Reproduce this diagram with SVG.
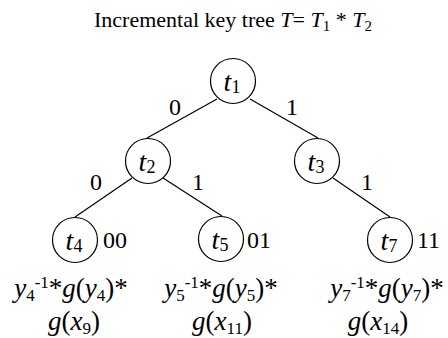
<svg xmlns="http://www.w3.org/2000/svg" width="448" height="338" viewBox="0 0 448 338">
<style>
text{font-family:"Liberation Serif","Times New Roman",serif;fill:#000}
.it{font-style:italic}
.node circle{fill:#fff;stroke:#000;stroke-width:1.2}
.mid{text-anchor:middle}
.nl{font-size:28px;text-anchor:middle}
.el{font-size:24px;text-anchor:middle}
.code{font-size:24px}
.ex{font-size:27px;text-anchor:middle}
.sub{font-size:17px}
.nsub{font-size:18px}
#edges line{stroke:#000;stroke-width:1.2}
</style>
<rect width="448" height="338" fill="#fff"/>
<text x="94" y="27" font-size="22">Incremental key tree <tspan class="it">T</tspan>= <tspan class="it">T</tspan><tspan font-size="15" dy="4">1</tspan><tspan dy="-4"> *  </tspan><tspan class="it">T</tspan><tspan font-size="15" dy="4">2</tspan></text>
<g id="edges">
<line x1="217" y1="99" x2="147" y2="138"/>
<line x1="250" y1="99" x2="318" y2="138"/>
<line x1="132" y1="178" x2="75" y2="217"/>
<line x1="163" y1="178" x2="222" y2="216"/>
<line x1="333" y1="178" x2="390" y2="217"/>
<text class="el" x="175" y="115">0</text>
<text class="el" x="292" y="115">1</text>
<text class="el" x="96" y="190">0</text>
<text class="el" x="198" y="190">1</text>
<text class="el" x="367" y="190">1</text>
</g>
<g id="t1" class="node"><circle cx="233" cy="81" r="22.5"/><text class="nl" x="232" y="91"><tspan class="it">t</tspan><tspan class="nsub" dy="2">1</tspan></text></g>
<g id="t2" class="node"><circle cx="148" cy="161" r="22.5"/><text class="nl" x="147" y="171"><tspan class="it">t</tspan><tspan class="nsub" dy="2">2</tspan></text></g>
<g id="t3" class="node"><circle cx="317" cy="161" r="22.5"/><text class="nl" x="316" y="171"><tspan class="it">t</tspan><tspan class="nsub" dy="2">3</tspan></text></g>
<g id="t4" class="node"><circle cx="75" cy="240" r="22.5"/><text class="nl" x="74" y="250"><tspan class="it">t</tspan><tspan class="nsub" dy="2">4</tspan></text>
<text class="code" x="103" y="248">00</text>
<text class="ex" x="71" y="297"><tspan class="it">y</tspan><tspan class="sub" dy="4">4</tspan><tspan class="sub" dy="-13">-1</tspan><tspan dy="9">*</tspan><tspan class="it">g</tspan>(<tspan class="it">y</tspan><tspan class="sub" dy="4">4</tspan><tspan dy="-4">)*</tspan></text>
<text class="ex" x="74" y="330"><tspan class="it">g</tspan>(<tspan class="it">x</tspan><tspan class="sub" dy="4">9</tspan><tspan dy="-4">)</tspan></text></g>
<g id="t5" class="node"><circle cx="221" cy="239" r="22.5"/><text class="nl" x="220" y="249"><tspan class="it">t</tspan><tspan class="nsub" dy="2">5</tspan></text>
<text class="code" x="247" y="248">01</text>
<text class="ex" x="221" y="297"><tspan class="it">y</tspan><tspan class="sub" dy="4">5</tspan><tspan class="sub" dy="-13">-1</tspan><tspan dy="9">*</tspan><tspan class="it">g</tspan>(<tspan class="it">y</tspan><tspan class="sub" dy="4">5</tspan><tspan dy="-4">)*</tspan></text>
<text class="ex" x="222" y="330"><tspan class="it">g</tspan>(<tspan class="it">x</tspan><tspan class="sub" dy="4">11</tspan><tspan dy="-4">)</tspan></text></g>
<g id="t7" class="node"><circle cx="390" cy="240" r="22.5"/><text class="nl" x="389" y="250"><tspan class="it">t</tspan><tspan class="nsub" dy="2">7</tspan></text>
<text class="code" x="417" y="248">11</text>
<text class="ex" x="387" y="297"><tspan class="it">y</tspan><tspan class="sub" dy="4">7</tspan><tspan class="sub" dy="-13">-1</tspan><tspan dy="9">*</tspan><tspan class="it">g</tspan>(<tspan class="it">y</tspan><tspan class="sub" dy="4">7</tspan><tspan dy="-4">)*</tspan></text>
<text class="ex" x="378" y="330"><tspan class="it">g</tspan>(<tspan class="it">x</tspan><tspan class="sub" dy="4">14</tspan><tspan dy="-4">)</tspan></text></g>
</svg>
